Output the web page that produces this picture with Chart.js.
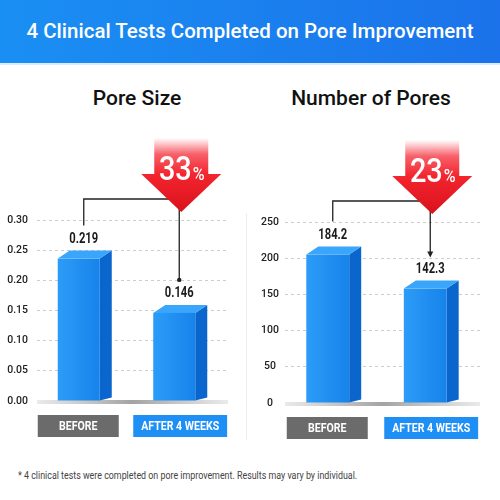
<!DOCTYPE html>
<html>
<head>
<meta charset="utf-8">
<script src="https://cdn.jsdelivr.net/npm/chart.js@4/dist/chart.umd.min.js"></script>
<style>
  body { margin: 0; width: 500px; height: 500px; background: #fff; position: relative; overflow: hidden; font-family: Roboto, "Open Sans", sans-serif; }
  .banner { position: absolute; left: 0; top: 0; width: 500px; height: 63px; background: linear-gradient(90deg, #1a8ff3, #1b72ea); border-bottom: 2px solid #d6eeff; color: #fff; font-size: 20.5px; font-weight: 500; text-align: center; line-height: 63px; }
  .sub { position: absolute; top: 86px; font-size: 21px; font-weight: 500; color: #111; text-align: center; width: 240px; }
  canvas { position: absolute; top: 70px; }
  .sep { position: absolute; left: 246px; top: 213px; width: 1px; height: 227px; background: #eee; }
  .note { position: absolute; left: 18px; top: 470px; font-size: 10px; color: #444; white-space: nowrap; transform-origin: 0 0; }
</style>
</head>
<body>
<div class="banner">4 Clinical Tests Completed on Pore Improvement</div>
<div class="sub" style="left:17px">Pore Size</div>
<div class="sub" style="left:251px">Number of Pores</div>
<canvas id="sizeChart" width="250" height="380" style="left:0"></canvas>
<div class="sep"></div>
<canvas id="countChart" width="250" height="380" style="left:250px"></canvas>
<div class="note" id="note">* 4 clinical tests were completed on pore improvement. Results may vary by individual.</div>

<script>
// 카테고리
const categories = ['BEFORE', 'AFTER 4 WEEKS'];

// 그림에 적힌 숫자
const poreSizeValues = [0.219, 0.146];
const poreCountValues = [184.2, 142.3];

// 막대 높이 (그림에서 읽은 값, 첫 막대가 글자보다 조금 높게 그려져 있음)
const poreSizeBars = [0.236, 0.146];
const poreCountBars = [205, 158];

// y축 눈금
const poreSizeTicks = [0, 0.05, 0.10, 0.15, 0.20, 0.25, 0.30];
const poreCountTicks = [0, 50, 100, 150, 200, 250];

const boxColors = ['#6b6b6b', '#1e8ff5'];

// 글자를 옆으로 좁혀서 쓰는 장치 (원본 글꼴이 좁음)
function narrowText(ctx, text, x, y, font, sx, align) {
    ctx.save();
    ctx.font = font;
    ctx.textAlign = align || 'center';
    ctx.translate(x, y);
    ctx.scale(sx, 1);
    ctx.fillText(text, 0, 0);
    ctx.restore();
}

// 3D 막대 + 화살표 + 라벨 그리는 플러그인
const bar3d = {
    id: 'bar3d',
    beforeDatasetsDraw(chart) {
        const ctx = chart.ctx;
        const area = chart.chartArea;
        // 바닥 그림자
        const g = ctx.createLinearGradient(area.left, 0, area.right, 0);
        g.addColorStop(0, 'rgba(150,150,150,0.2)');
        g.addColorStop(0.5, 'rgba(140,140,140,0.8)');
        g.addColorStop(1, 'rgba(150,150,150,0.2)');
        ctx.save();
        ctx.fillStyle = g;
        ctx.fillRect(area.left, area.bottom - 1, area.right - area.left, 4);
        ctx.restore();
    },
    afterDatasetsDraw(chart, args, opts) {
        const ctx = chart.ctx;
        const area = chart.chartArea;
        const meta = chart.getDatasetMeta(0);
        const dx = 12, dy = 8;
        const labelPos = [];

        ctx.save();
        ctx.textBaseline = 'middle';
        meta.data.forEach((bar, i) => {
            const w = bar.width;
            const fl = bar.x - w / 2 - 6;
            const fr = fl + w;
            const top = bar.y;
            const base = bar.base;

            // 옆면
            ctx.fillStyle = '#0a66cc';
            ctx.beginPath();
            ctx.moveTo(fr, top);
            ctx.lineTo(fr + dx, top - dy);
            ctx.lineTo(fr + dx, base - 3);
            ctx.lineTo(fr, base);
            ctx.closePath();
            ctx.fill();

            // 윗면
            ctx.fillStyle = '#3aa6fb';
            ctx.beginPath();
            ctx.moveTo(fl, top);
            ctx.lineTo(fl + dx, top - dy);
            ctx.lineTo(fr + dx, top - dy);
            ctx.lineTo(fr, top);
            ctx.closePath();
            ctx.fill();

            // 앞면
            const fg = ctx.createLinearGradient(fl, 0, fr, 0);
            fg.addColorStop(0, '#2c9cf8');
            fg.addColorStop(1, '#1683ea');
            ctx.fillStyle = fg;
            ctx.fillRect(fl, top, w, base - top);

            // 숫자 라벨
            const lx = bar.x - 1;
            const ly = top - dy - 11;
            ctx.fillStyle = '#1a1a1a';
            narrowText(ctx, String(opts.printed[i]), lx, ly, '700 14px Roboto', 0.8);
            labelPos.push({ x: lx, y: ly });

            // 카테고리 박스
            const label = chart.data.labels[i];
            ctx.font = '700 12px Roboto';
            const tw = ctx.measureText(label).width * 0.88;
            const bw = Math.max(81, tw + 16);
            const bl = bar.x - 47;
            ctx.fillStyle = boxColors[i];
            ctx.fillRect(bl, area.bottom + 14, bw, 22);
            ctx.fillStyle = '#fff';
            narrowText(ctx, label, bl + bw / 2, area.bottom + 25.5, '700 12px Roboto', 0.88);
        });

        // 연결선
        const p1 = labelPos[0], p2 = labelPos[1];
        const ly = area.top - 21;
        ctx.strokeStyle = '#222';
        ctx.lineWidth = 1.3;
        ctx.beginPath();
        ctx.moveTo(p1.x, p1.y - 14);
        ctx.lineTo(p1.x, ly);
        ctx.lineTo(p2.x, ly);
        ctx.lineTo(p2.x, p2.y - 14);
        ctx.stroke();
        ctx.fillStyle = '#222';
        if (opts.endMark === 'dot') {
            ctx.beginPath();
            ctx.arc(p2.x, p2.y - 14, 2.2, 0, Math.PI * 2);
            ctx.fill();
        } else {
            ctx.beginPath();
            ctx.moveTo(p2.x - 3, p2.y - 18);
            ctx.lineTo(p2.x + 3, p2.y - 18);
            ctx.lineTo(p2.x, p2.y - 12);
            ctx.closePath();
            ctx.fill();
        }

        // 빨간 화살표
        const ax = p2.x + 2;
        const tip = area.top - 8;
        const headBase = tip - 38;
        const shaftTop = headBase - 36;
        const sg = ctx.createLinearGradient(0, shaftTop, 0, headBase);
        sg.addColorStop(0, 'rgba(255,255,255,1)');
        sg.addColorStop(0.45, '#f8606a');
        sg.addColorStop(1, '#f3252f');
        ctx.fillStyle = sg;
        ctx.fillRect(ax - 27, shaftTop, 54, headBase - shaftTop + 1);
        const hg = ctx.createLinearGradient(0, headBase, 0, tip);
        hg.addColorStop(0, '#f3252f');
        hg.addColorStop(1, '#d9111b');
        ctx.fillStyle = hg;
        ctx.beginPath();
        ctx.moveTo(ax - 40, headBase);
        ctx.lineTo(ax + 40, headBase);
        ctx.lineTo(ax, tip);
        ctx.closePath();
        ctx.fill();

        // 감소율 (적힌 숫자로 계산)
        const pct = Math.round((opts.printed[0] - opts.printed[1]) / opts.printed[0] * 100);
        ctx.fillStyle = '#fff';
        ctx.textBaseline = 'alphabetic';
        ctx.font = '500 34px Roboto';
        const nw = ctx.measureText(String(pct)).width * 0.85;
        ctx.font = '500 19px Roboto';
        const sw = ctx.measureText('%').width * 0.85;
        const sx = ax - (nw + sw) / 2;
        narrowText(ctx, String(pct), sx, tip - 32, '500 34px Roboto', 0.85, 'left');
        narrowText(ctx, '%', sx + nw + 1, tip - 32, '500 19px Roboto', 0.85, 'left');
        ctx.restore();
    }
};

function makeChart(id, bars, printed, ticks, opt) {
    const ctx = document.getElementById(id).getContext('2d');
    return new Chart(ctx, {
        type: 'bar',
        data: {
            labels: categories,
            datasets: [{
                data: bars,
                backgroundColor: 'rgba(0,0,0,0)',
                barPercentage: 0.44,
                categoryPercentage: 1
            }]
        },
        options: {
            responsive: false,
            animation: false,
            layout: { padding: { top: opt.top, bottom: 380 - opt.bottom, left: 0, right: opt.right } },
            plugins: {
                legend: { display: false },
                tooltip: { enabled: false },
                bar3d: { printed: printed, endMark: opt.endMark }
            },
            scales: {
                x: { display: false },
                y: {
                    min: 0,
                    max: ticks[ticks.length - 1],
                    afterBuildTicks: scale => { scale.ticks = ticks.map(v => ({ value: v })); },
                    afterFit: scale => { scale.width = opt.axisW; },
                    grid: {
                        color: c => c.tick.value === 0 ? 'rgba(0,0,0,0)' : '#cdcdcd',
                        drawTicks: false
                    },
                    border: { display: false, dash: [3, 3] },
                    ticks: {
                        padding: opt.tickPad,
                        crossAlign: 'center',
                        color: '#222',
                        font: { family: 'Roboto', size: 10.5, weight: '500' },
                        callback: v => opt.fmt(v)
                    }
                }
            }
        },
        plugins: [bar3d]
    });
}

makeChart('sizeChart', poreSizeBars, poreSizeValues, poreSizeTicks,
    { top: 150, bottom: 331, right: 22, axisW: 37, tickPad: 9, endMark: 'dot', fmt: v => v.toFixed(2) });
makeChart('countChart', poreCountBars, poreCountValues, poreCountTicks,
    { top: 152, bottom: 333, right: 20, axisW: 35, tickPad: 6, endMark: 'arrow', fmt: v => String(v) });

// 각주 폭 맞추기
const note = document.getElementById('note');
note.style.transform = 'scaleX(' + (339 / note.offsetWidth) + ')';
</script>
</body>
</html>
